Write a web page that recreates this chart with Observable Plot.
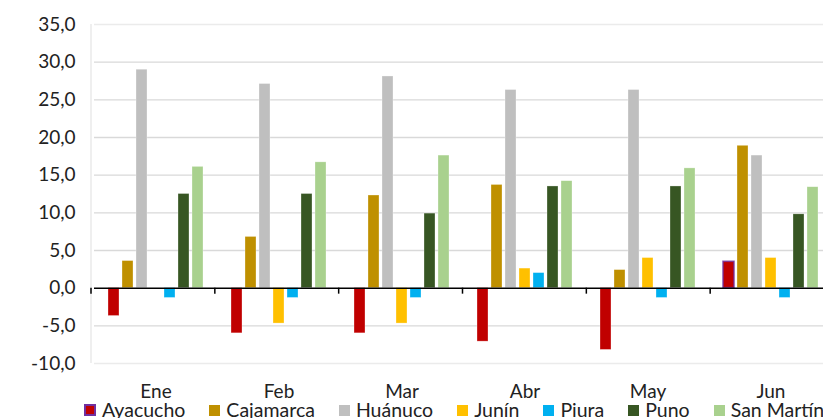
<!DOCTYPE html>
<html>
<head>
<meta charset="utf-8">
<script src="https://cdn.jsdelivr.net/npm/d3@7"></script>
<script src="https://cdn.jsdelivr.net/npm/@observablehq/plot@0.6"></script>
<style>
  html, body { margin: 0; padding: 0; overflow: hidden; background: #fff; width: 823px; height: 418px; }
  #wrap { position: relative; width: 823px; height: 418px; overflow: hidden; font-family: Lato, "Open Sans", sans-serif; }
  #chart svg { max-width: none !important; }
  #chart svg text { font-family: Lato, "Open Sans", sans-serif; font-size: 19px; fill: #222; }
  #legend { position: absolute; left: 84px; top: 400px; display: flex; align-items: center; gap: 24px; white-space: nowrap;
            font-family: Lato, "Open Sans", sans-serif; font-size: 19.5px; color: #222; line-height: 20px; }
  .item { display: flex; align-items: center; }
  .sw { width: 11px; height: 11px; margin-right: 6px; box-sizing: border-box; }
</style>
</head>
<body>
<div id="wrap">
  <div id="chart"></div>
  <div id="legend"></div>
</div>
<script>
const months = ["Ene", "Feb", "Mar", "Abr", "May", "Jun"];
const regions = ["Ayacucho", "Cajamarca", "Huánuco", "Junín", "Piura", "Puno", "San Martín"];
const colors = ["#C00000", "#BF9000", "#BFBFBF", "#FFC000", "#00B0F0", "#375623", "#A9D18E"];

const ayacucho  = [-3.7, -6.0, -6.0, -7.1, -8.2, 3.5];
const cajamarca = [3.6, 6.8, 12.3, 13.7, 2.4, 18.9];
const huanuco   = [29.0, 27.1, 28.1, 26.3, 26.3, 17.6];
const junin     = [0, -4.7, -4.7, 2.6, 4.0, 4.0];
const piura     = [-1.3, -1.3, -1.3, 2.0, -1.3, -1.3];
const puno      = [12.5, 12.5, 9.9, 13.5, 13.5, 9.8];
const sanMartin = [16.1, 16.7, 17.6, 14.2, 15.9, 13.4];

const yTicks = [-10, -5, 0, 5, 10, 15, 20, 25, 30, 35];

const series = [ayacucho, cajamarca, huanuco, junin, piura, puno, sanMartin];
const data = [];
months.forEach((m, i) => {
  regions.forEach((r, j) => {
    data.push({month: m, region: r, value: series[j][i]});
  });
});

const fmt = d => d.toFixed(1).replace(".", ",");

const chart = Plot.plot({
  width: 834,
  height: 398,
  marginLeft: 91,
  marginRight: 0,
  marginTop: 24,
  marginBottom: 35,
  style: {fontFamily: "Lato, 'Open Sans', sans-serif", fontSize: "19px", background: "white", overflow: "visible", maxWidth: "none"},
  fx: {domain: months, padding: 0, label: null, axis: "bottom", tickSize: 0, tickPadding: 21},
  x: {domain: regions, paddingInner: 0.22, paddingOuter: 0.78, axis: null},
  y: {domain: [-10, 35], ticks: yTicks, tickFormat: fmt, tickSize: 0, tickPadding: 19, label: null},
  color: {domain: regions, range: colors},
  marks: [
    Plot.ruleY(yTicks.filter(t => t !== -10 && t !== 35 && t !== 0), {stroke: "#D9D9D9", strokeWidth: 1.4}),
    Plot.ruleY([-10, 35], {stroke: "#EBEBEB", strokeWidth: 1.6}),
    Plot.barY(data.filter(d => d.value !== 0), {fx: "month", x: "region", y: "value", fill: "region",
      stroke: d => d.region === "Ayacucho" && d.value > 0 ? "#7030A0" : "white",
      strokeWidth: d => d.region === "Ayacucho" && d.value > 0 ? 1.6 : 0.6,
      strokeOpacity: d => d.region === "Ayacucho" && d.value > 0 ? 0.8 : 0.5}),
    Plot.ruleY([0], {stroke: "#000", strokeWidth: 1.5})
  ]
});

document.getElementById("chart").appendChild(chart);

// Left plot-area border and facet boundary ticks, placed via the chart's own scales
const fxS = chart.scale("fx");
const yS = chart.scale("y");
const fxBand = d3.scaleBand(fxS.domain, fxS.range)
  .paddingInner(fxS.paddingInner ?? 0).paddingOuter(fxS.paddingOuter ?? 0).align(fxS.align ?? 0.5);
const yLin = d3.scaleLinear(yS.domain, yS.range);
const svg = d3.select(chart);
svg.append("line")
  .attr("x1", fxBand(months[0])).attr("x2", fxBand(months[0]))
  .attr("y1", yLin(35)).attr("y2", yLin(-10))
  .attr("stroke", "#EBEBEB").attr("stroke-width", 1.6);
const g = svg.append("g");
months.forEach(m => {
  g.append("line")
    .attr("x1", fxBand(m)).attr("x2", fxBand(m))
    .attr("y1", yLin(0)).attr("y2", yLin(0) + 6)
    .attr("stroke", "#000").attr("stroke-width", 1.5);
});

// Legend
const legend = d3.select("#legend");
regions.forEach((r, i) => {
  const it = legend.append("div").attr("class", "item");
  const sw = it.append("div").attr("class", "sw").style("background", colors[i]);
  if (r === "Ayacucho") sw.style("border", "2px solid #7030A0").style("width", "12px").style("height", "12px");
  it.append("span").text(r);
});
</script>
</body>
</html>
